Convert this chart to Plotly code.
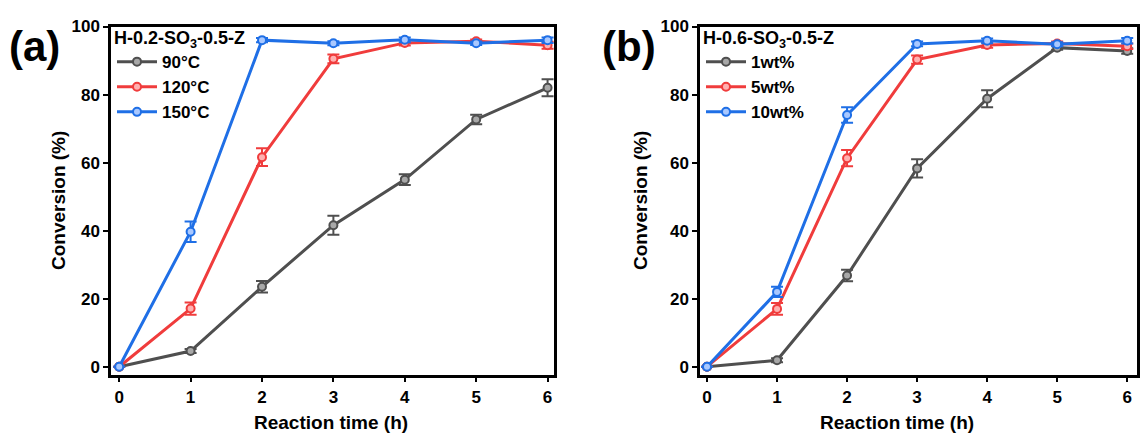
import plotly.graph_objects as go

# Reaction time (h)
time_h = [0, 1, 2, 3, 4, 5, 6]

# Panel (a): H-0.2-SO3-0.5-Z at different temperatures
temp_labels = ["90°C", "120°C", "150°C"]
conv_90 = [0, 4.6, 23.5, 41.6, 55.0, 72.7, 82.0]
err_90 = [0, 0.6, 1.7, 2.8, 1.6, 1.4, 2.5]
conv_120 = [0, 17.1, 61.6, 90.5, 95.2, 95.7, 94.5]
err_120 = [0, 1.8, 2.6, 1.3, 0.8, 0.5, 1.0]
conv_150 = [0, 39.7, 96.0, 95.1, 96.1, 95.1, 96.0]
err_150 = [0, 3.0, 0.6, 0.6, 0.7, 0.5, 0.8]

# Panel (b): H-0.6-SO3-0.5-Z at different catalyst loadings
load_labels = ["1wt%", "5wt%", "10wt%"]
conv_1wt = [0, 1.9, 26.8, 58.3, 78.8, 93.8, 92.8]
err_1wt = [0, 0.6, 1.7, 2.7, 2.5, 0.6, 0.8]
conv_5wt = [0, 17.0, 61.3, 90.3, 94.6, 95.0, 94.2]
err_5wt = [0, 1.7, 2.4, 1.2, 0.8, 0.6, 0.8]
conv_10wt = [0, 22.0, 74.0, 94.9, 95.8, 94.8, 95.8]
err_10wt = [0, 1.5, 2.3, 0.7, 0.7, 0.6, 0.8]

GRAY = "#4f4f4f"
RED = "#f03c3c"
BLUE = "#1f6fe6"
LIGHT = {GRAY: "#a8a8a8", RED: "#ffb0b0", BLUE: "#a9c8ff"}
FONT = "Liberation Sans, Arial, sans-serif"

fig = go.Figure()


def add_series(x, y, err, name, color, xa, ya, legend):
    fig.add_trace(go.Scatter(
        x=x, y=y, name=name, mode="lines+markers",
        xaxis=xa, yaxis=ya, legend=legend,
        line=dict(color=color, width=3),
        marker=dict(symbol="circle", size=8, color=LIGHT[color],
                    line=dict(color=color, width=2)),
        error_y=dict(type="data", array=err, visible=True,
                     color=color, thickness=2, width=6),
    ))


add_series(time_h, conv_90, err_90, temp_labels[0], GRAY, "x", "y", "legend")
add_series(time_h, conv_120, err_120, temp_labels[1], RED, "x", "y", "legend")
add_series(time_h, conv_150, err_150, temp_labels[2], BLUE, "x", "y", "legend")

add_series(time_h, conv_1wt, err_1wt, load_labels[0], GRAY, "x2", "y2", "legend2")
add_series(time_h, conv_5wt, err_5wt, load_labels[1], RED, "x2", "y2", "legend2")
add_series(time_h, conv_10wt, err_10wt, load_labels[2], BLUE, "x2", "y2", "legend2")

W, H = 1143, 436
Y_TOP, Y_BOT = 18, 375
dom_y = [1 - Y_BOT / H, 1 - Y_TOP / H]
dom_xa = [111 / W, 554 / W]
dom_xb = [700 / W, 1137 / W]

axis_common = dict(
    showline=True, linecolor="black", linewidth=2.5, mirror=True,
    ticks="outside", ticklen=5, tickwidth=2, tickcolor="black",
    showgrid=False, zeroline=False,
    tickfont=dict(family=FONT, size=17, color="black", weight="bold"),
)

legend_common = dict(
    bgcolor="rgba(0,0,0,0)", borderwidth=0,
    font=dict(family=FONT, size=17, color="black", weight="bold"),
    itemwidth=40, tracegroupgap=0,
    xanchor="left", yanchor="top",
)
legend_title_font = dict(family=FONT, size=18, color="black", weight="bold")

fig.update_layout(
    width=W, height=H,
    margin=dict(l=0, r=0, t=0, b=0),
    paper_bgcolor="white", plot_bgcolor="white",
    showlegend=True,
    xaxis=dict(domain=dom_xa, range=[-0.115, 6.09], tickvals=time_h,
               anchor="y", **axis_common),
    yaxis=dict(domain=dom_y, range=[-2.3, 100], tickvals=[0, 20, 40, 60, 80, 100],
               anchor="x", **axis_common),
    xaxis2=dict(domain=dom_xb, range=[-0.1, 6.14], tickvals=time_h,
                anchor="y2", **axis_common),
    yaxis2=dict(domain=dom_y, range=[-2.3, 100], tickvals=[0, 20, 40, 60, 80, 100],
                anchor="x2", **axis_common),
    legend=dict(x=dom_xa[0] + 1 / W, y=dom_y[1] + 6 / H,
                title=dict(text="H-0.2-SO<sub>3</sub>-0.5-Z", font=legend_title_font),
                **legend_common),
    legend2=dict(x=dom_xb[0] + 1 / W, y=dom_y[1] + 6 / H,
                 title=dict(text="H-0.6-SO<sub>3</sub>-0.5-Z", font=legend_title_font),
                 **legend_common),
)

title_font = dict(family=FONT, size=19, color="black", weight="bold")
panel_font = dict(family=FONT, size=42, color="black", weight="bold")
annotations = [
    dict(text="(a)", x=7 / W, y=1 - 38 / H, xref="paper", yref="paper",
         xanchor="left", yanchor="middle", showarrow=False, font=panel_font),
    dict(text="(b)", x=600 / W, y=1 - 38 / H, xref="paper", yref="paper",
         xanchor="left", yanchor="middle", showarrow=False, font=panel_font),
    dict(text="Conversion (%)", x=58 / W, y=1 - 197 / H, xref="paper", yref="paper",
         textangle=-90, xanchor="center", yanchor="middle", showarrow=False,
         font=title_font),
    dict(text="Conversion (%)", x=640 / W, y=1 - 197 / H, xref="paper", yref="paper",
         textangle=-90, xanchor="center", yanchor="middle", showarrow=False,
         font=title_font),
    dict(text="Reaction time (h)", x=331 / W, y=1 - 424 / H, xref="paper", yref="paper",
         xanchor="center", yanchor="middle", showarrow=False, font=title_font),
    dict(text="Reaction time (h)", x=897 / W, y=1 - 424 / H, xref="paper", yref="paper",
         xanchor="center", yanchor="middle", showarrow=False, font=title_font),
]
fig.update_layout(annotations=annotations)

fig.write_html("out.html")
